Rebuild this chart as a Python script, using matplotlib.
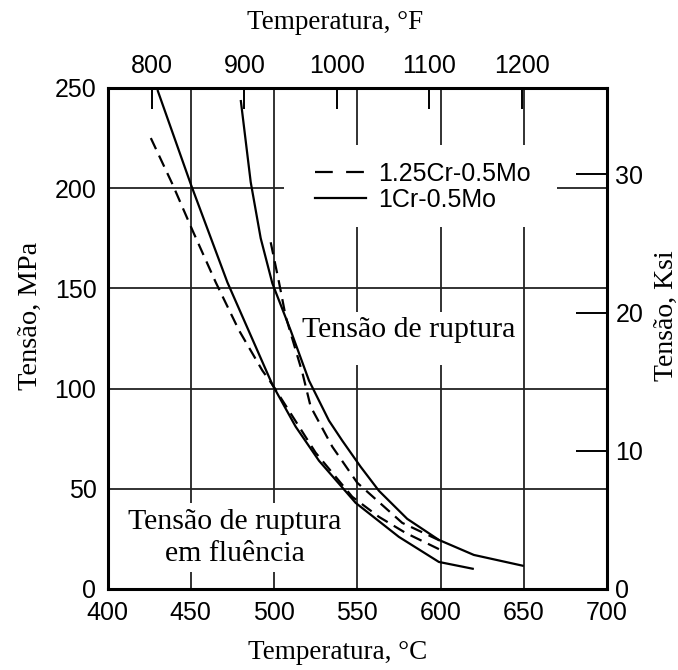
import matplotlib
matplotlib.use("Agg")
import matplotlib.pyplot as plt
from matplotlib.lines import Line2D

# --- data (T in degC, stress in MPa) ---
cr1_creep_T = [430, 450, 472, 499, 513, 527, 549, 575, 599, 620]
cr1_creep_S = [249, 202, 153, 102, 81, 64, 43, 26, 13.5, 10]

cr125_creep_T = [426, 439, 451, 465, 479, 493, 499, 525, 547, 563, 579, 600]
cr125_creep_S = [225, 202, 179, 153, 129, 109, 102, 68, 46, 36, 28, 19.5]

cr1_rupt_T = [480, 486, 492, 499, 510, 521, 533, 541, 552, 563, 580, 599, 620, 650]
cr1_rupt_S = [244, 203, 175, 152.5, 129, 104, 84, 74, 61, 49, 35, 24.5, 17, 11.5]

cr125_rupt_T = [498, 503, 507, 517, 522, 535, 550, 577, 600]
cr125_rupt_S = [173, 153, 136, 108, 91, 71, 53, 33, 24]

x_ticks_c = [400, 450, 500, 550, 600, 650, 700]
y_ticks_mpa = [0, 50, 100, 150, 200, 250]
x_ticks_f = [800, 900, 1000, 1100, 1200]
y_ticks_ksi = [0, 10, 20, 30]

SERIF = "Liberation Serif"
SANS = "Liberation Sans"
TICK_FS = 18

fig = plt.figure(figsize=(6.78, 6.70), dpi=100)
ax = fig.add_axes([0.1586, 0.1209, 0.7367, 0.7478])
ax.set_xlim(400, 700)
ax.set_ylim(0, 250)

# grid lines, broken where the labels / legend sit
gkw = dict(color="#222222", lw=1.3, zorder=1)
for x in (450, 500):
    ax.vlines(x, 0, 8.5, **gkw)
    ax.vlines(x, 43, 250, **gkw)
for x in (550, 600):
    ax.vlines(x, 0, 111.8, **gkw)
    ax.vlines(x, 138.2, 180.6, **gkw)
    ax.vlines(x, 221.6, 250, **gkw)
ax.vlines(650, 0, 180.6, **gkw)
ax.vlines(650, 221.6, 250, **gkw)
for y in (50, 100, 150):
    ax.hlines(y, 400, 700, **gkw)
ax.hlines(200, 400, 506, **gkw)
ax.hlines(200, 670, 700, **gkw)

# curves
ckw = dict(color="black", lw=1.6, zorder=3, solid_capstyle="butt")
dash = (0, (5.5, 3.2))
ax.plot(cr1_creep_T, cr1_creep_S, "-", **ckw)
ax.plot(cr1_rupt_T, cr1_rupt_S, "-", **ckw)
ax.plot(cr125_creep_T, cr125_creep_S, linestyle=dash, **ckw)
ax.plot(cr125_rupt_T, cr125_rupt_S, linestyle=dash, **ckw)

# annotations
ax.text(581, 129, "Tensão de ruptura", family=SERIF, fontsize=21.5,
        ha="center", va="center", zorder=2)
ax.text(476.4, 25.2, "Tensão de ruptura\nem fluência", family=SERIF,
        fontsize=21.5, ha="center", va="center", linespacing=1.3, zorder=2)

handles = [
    Line2D([], [], color="black", lw=1.6, linestyle=(0, (8, 6))),
    Line2D([], [], color="black", lw=1.6, linestyle="-"),
]
ax.legend(handles, ["1.25Cr-0.5Mo", "1Cr-0.5Mo"], loc="upper left",
          bbox_to_anchor=(0.415, 0.852), frameon=False, borderpad=0,
          borderaxespad=0, handlelength=2.06, handletextpad=0.47,
          labelspacing=0.08, prop=dict(family=SANS, size=TICK_FS))

# main axes ticks
ax.set_xticks(x_ticks_c)
ax.set_yticks(y_ticks_mpa)
ax.tick_params(length=0, labelsize=TICK_FS)
ax.tick_params(axis="x", pad=9)
ax.tick_params(axis="y", pad=8)
for lab in ax.get_xticklabels() + ax.get_yticklabels():
    lab.set_family(SANS)
for sp in ax.spines.values():
    sp.set_linewidth(2.2)
    sp.set_zorder(5)
ax.set_xlabel("Temperatura, °C", family=SERIF, fontsize=19.5)
ax.xaxis.set_label_coords(0.461, -0.102)
ax.set_ylabel("Tensão, MPa", family=SERIF, fontsize=20.5)
ax.yaxis.set_label_coords(-0.129, 0.545)

# top axis in degF
top = ax.secondary_xaxis("top", functions=(lambda c: c * 9 / 5 + 32,
                                           lambda f: (f - 32) * 5 / 9))
top.set_xticks(x_ticks_f)
top.tick_params(direction="in", length=15, width=1.4, labelsize=TICK_FS, pad=7)
for lab in top.get_xticklabels():
    lab.set_family(SANS)
top.set_xlabel("Temperatura, °F", family=SERIF, fontsize=19.5)
top.xaxis.set_label_coords(0.455, 1.118, transform=ax.transAxes)

# right axis in ksi
right = ax.secondary_yaxis("right", functions=(lambda m: m / 6.895,
                                               lambda k: k * 6.895))
right.set_yticks(y_ticks_ksi)
right.tick_params(direction="in", length=22, width=1.4, labelsize=TICK_FS, pad=6)
for lab in right.get_yticklabels():
    lab.set_family(SANS)
right.set_ylabel("Tensão, Ksi", family=SERIF, fontsize=20)
right.yaxis.set_label_coords(1.094, 0.545, transform=ax.transAxes)

fig.savefig("out.png", dpi=100)
